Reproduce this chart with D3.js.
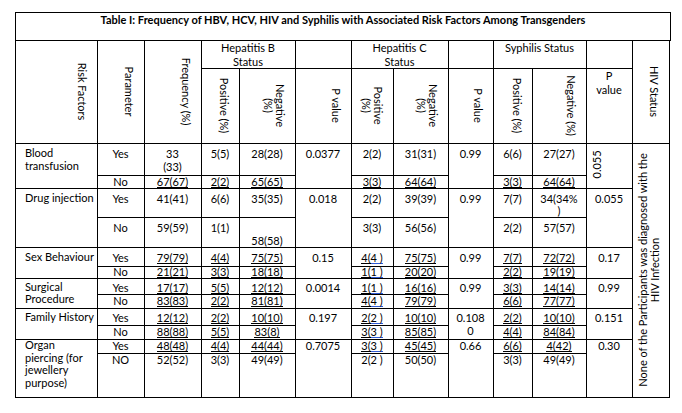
<!DOCTYPE html>
<html>
<head>
<meta charset="utf-8">
<script src="https://cdn.jsdelivr.net/npm/d3@7"></script>
<style>
  body { margin: 0; background: #fff; }
  svg text { font-family: Lato, "Noto Sans", sans-serif; fill: #000; font-size: 11px; }
  svg line, svg rect { shape-rendering: crispEdges; }
</style>
</head>
<body>
<svg id="table" width="682" height="413"></svg>
<script>
var title = "Table I: Frequency of HBV, HCV, HIV and Syphilis with Associated Risk Factors Among Transgenders";

// one entry per risk factor
var riskFactors = ["Blood\ntransfusion", "Drug injection", "Sex Behaviour", "Surgical\nProcedure", "Family History", "Organ\npiercing (for\njewellery\npurpose)"];
var hbvP  = ["0.0377", "0.018", "0.15", "0.0014", "0.197", "0.7075"];
var hcvP  = ["0.99", "0.99", "0.99", "0.99", "0.108\n0", "0.66"];
var syphP = ["0.055", "0.055", "0.17", "0.99", "0.151", "0.30"];

// one entry per parameter row (Yes / No for each risk factor)
var parameters   = ["Yes", "No", "Yes", "No", "Yes", "No", "Yes", "No", "Yes", "No", "Yes", "NO"];
var frequency    = ["33\n(33)", "67(67)", "41(41)", "59(59)", "79(79)", "21(21)", "17(17)", "83(83)", "12(12)", "88(88)", "48(48)", "52(52)"];
var hbvPositive  = ["5(5)", "2(2)", "6(6)", "1(1)", "4(4)", "3(3)", "5(5)", "2(2)", "2(2)", "5(5)", "4(4)", "3(3)"];
var hbvNegative  = ["28(28)", "65(65)", "35(35)", "\n58(58)", "75(75)", "18(18)", "12(12)", "81(81)", "10(10)", "83(8)", "44(44)", "49(49)"];
var hcvPositive  = ["2(2)", "3(3)", "2(2)", "3(3)", "4(4 )", "1(1 )", "1(1 )", "4(4 )", "2(2 )", "3(3 )", "3(3 )", "2(2 )"];
var hcvNegative  = ["31(31)", "64(64)", "39(39)", "56(56)", "75(75)", "20(20)", "16(16)", "79(79)", "10(10)", "85(85)", "45(45)", "50(50)"];
var syphPositive = ["6(6)", "3(3)", "7(7)", "2(2)", "7(7)", "2(2)", "3(3)", "6(6)", "2(2)", "4(4)", "6(6)", "3(3)"];
var syphNegative = ["27(27)", "64(64)", "34(34%\n)", "57(57)", "72(72)", "19(19)", "14(14)", "77(77)", "10(10)", "84(84)", "4(42)", "49(49)"];

var hivStatus = "None of the Participants was diagnosed with the\nHIV Infection";

// header texts
var columns = ["risk", "param", "freq", "hbvPos", "hbvNeg", "hbvP", "hcvPos", "hcvNeg", "hcvP", "syphPos", "syphNeg", "syphP", "hiv"];
var headerLabels = ["Risk Factors", "Parameter", "Frequency (%)", "Positive (%)", "Negative\n(%)", "P value",
                    "Positive\n(%)", "Negative\n(%)", "P value", "Positive (%)", "Negative (%)", "P\nvalue", "HIV Status"];
var groupLabels = ["Hepatitis B\nStatus", "Hepatitis C\nStatus", "Syphilis Status"];

// ---- layout ----
var svg = d3.select('#table');
var colEdges = [15, 97, 144, 201, 239, 295, 351, 393, 448, 493, 532, 586, 632, 669];
var x = d3.scaleOrdinal().domain(columns).range(colEdges.slice(0, -1));
var xr = d3.scaleOrdinal().domain(columns).range(colEdges.slice(1));
var xc = function (k) { return (x(k) + xr(k)) / 2; };

var titleTop = 12, headTop = 40, subHead = 68, bodyTop = 143, bodyBottom = 397;
// top line and first text baseline of each parameter row
var rowTops      = [143, 175, 187.5, 217, 247, 266, 278, 294, 308, 325, 339, 353];
var rowBaselines = [158, 185.5, 202.5, 232, 261.5, 276, 291.5, 305, 322, 336, 350, 364];
var y = d3.scaleOrdinal().domain(d3.range(12)).range(rowTops);
var yb = d3.scaleOrdinal().domain(d3.range(12)).range(rowBaselines);
var groupTop = function (g) { return y(g * 2); };
var groupBottom = function (g) { return g < 5 ? y(g * 2 + 2) : bodyBottom; };

var lh = 12.5;
var grid = svg.append('g').attr('stroke', '#000').attr('stroke-width', 1);
var texts = svg.append('g');

function hline(x1, x2, yy) {
    grid.append('line').attr('x1', x1).attr('x2', x2).attr('y1', Math.round(yy) + 0.5).attr('y2', Math.round(yy) + 0.5);
}
function vline(xx, y1, y2) {
    grid.append('line').attr('x1', Math.round(xx) + 0.5).attr('x2', Math.round(xx) + 0.5).attr('y1', y1).attr('y2', y2);
}

// multi-line text, first baseline at by
function block(str, xx, by, anchor, step) {
    var t = texts.append('text').attr('text-anchor', anchor || 'middle');
    str.split('\n').forEach(function (s, i) {
        t.append('tspan').attr('x', xx).attr('y', by + i * (step || lh)).text(s);
    });
    return t;
}

// rotated text, angle 90 reads top to bottom, -90 bottom to top
function rotated(str, cx, cy, angle, anchor, shift) {
    var t = texts.append('text')
        .attr('transform', 'translate(' + cx + ',' + cy + ') rotate(' + angle + ')')
        .attr('text-anchor', anchor || 'middle');
    str.split('\n').forEach(function (s, i) {
        t.append('tspan').attr('x', 0).attr('y', (shift || 0) + i * 12.5 + 4).text(s);
    });
    return t;
}

// ---- title ----
grid.append('rect').attr('x', 15.5).attr('y', titleTop + 0.5).attr('width', 655).attr('height', headTop - titleTop).attr('fill', 'none');
texts.append('text').attr('x', 343).attr('y', 24).attr('text-anchor', 'middle')
    .style('font-weight', 'bold').style('font-size', '11px').text(title);

// ---- header ----
vline(colEdges[0], headTop, bodyBottom + 0.5);
vline(colEdges[colEdges.length - 1], headTop, bodyBottom + 0.5);
['param', 'freq', 'hbvPos', 'hbvP', 'hcvPos', 'hcvP', 'syphPos', 'syphP', 'hiv'].forEach(function (k) {
    vline(x(k), headTop, bodyBottom + 0.5);
});
['hbvNeg', 'hcvNeg', 'syphNeg'].forEach(function (k) { vline(x(k), subHead, bodyBottom + 0.5); });
hline(x('hbvPos'), x('hiv'), subHead);
hline(colEdges[0], colEdges[colEdges.length - 1] + 1, bodyTop);
hline(colEdges[0], colEdges[colEdges.length - 1] + 1, bodyBottom);

[['hbvPos', 'hbvNeg'], ['hcvPos', 'hcvNeg'], ['syphPos', 'syphNeg']].forEach(function (p, i) {
    block(groupLabels[i], (x(p[0]) + xr(p[1])) / 2, 52, 'middle', 13.5);
});

columns.forEach(function (k, i) {
    var label = headerLabels[i];
    if (k === 'syphP') {
        block(label, xc(k), 80, 'middle', 13.5);
        return;
    }
    var spansAll = ['risk', 'param', 'freq', 'hiv'].indexOf(k) >= 0;
    var cy = spansAll ? (headTop + bodyTop) / 2 : (subHead + bodyTop) / 2;
    rotated(label, xr(k) - 15, cy, 90, 'middle');
});

// ---- body ----
var valueCols = [['param', parameters], ['freq', frequency], ['hbvPos', hbvPositive], ['hbvNeg', hbvNegative],
                 ['hcvPos', hcvPositive], ['hcvNeg', hcvNegative], ['syphPos', syphPositive], ['syphNeg', syphNegative]];
var underlined = [1, 4, 5, 6, 7, 8, 9, 10];   // rows whose values carry an underline in the source

riskFactors.forEach(function (r, g) {
    var top = groupTop(g), bottom = groupBottom(g), base = yb(g * 2);
    if (g > 0) hline(colEdges[0], x('hiv'), top);
    // inner line between the Yes and No rows
    [['param', 'hbvNeg'], ['hcvPos', 'hcvNeg'], ['syphPos', 'syphNeg']].forEach(function (p) {
        hline(x(p[0]), xr(p[1]), y(g * 2 + 1));
    });
    block(r, x('risk') + 10, base - 1, 'start');
    block(hbvP[g], xc('hbvP'), base);
    block(hcvP[g], xc('hcvP'), base);
    if (g === 0) {
        // first syphilis p value is turned on its side in the source
        rotated(syphP[g], x('syphP') + 11, bottom - 9, -90, 'start');
    } else {
        block(syphP[g], xc('syphP'), base);
    }
});

d3.range(12).forEach(function (i) {
    valueCols.forEach(function (c) {
        var k = c[0], v = c[1][i];
        var t = block(v, xc(k), yb(i));
        if (k !== 'param' && underlined.indexOf(i) >= 0) {
            var node = t.node(), bb = node.getBBox();
            var base = yb(i) + (v.split('\n').length - 1) * lh + 1.5;
            grid.append('line').attr('x1', bb.x).attr('x2', bb.x + bb.width)
                .attr('y1', base).attr('y2', base);
            if (k === 'hcvPos' && v.indexOf(' )') > 0) {
                var start = v.indexOf('(') + 1;
                var off = node.firstChild.getSubStringLength(0, start);
                grid.append('line').attr('stroke', '#2f5bd3')
                    .attr('x1', bb.x + off).attr('x2', bb.x + bb.width).attr('y1', base).attr('y2', base);
            }
        }
    });
});

// HIV column spans every row
rotated(hivStatus, xc('hiv') - 2, (bodyTop + bodyBottom) / 2, -90, 'middle', -6);
</script>
</body>
</html>
